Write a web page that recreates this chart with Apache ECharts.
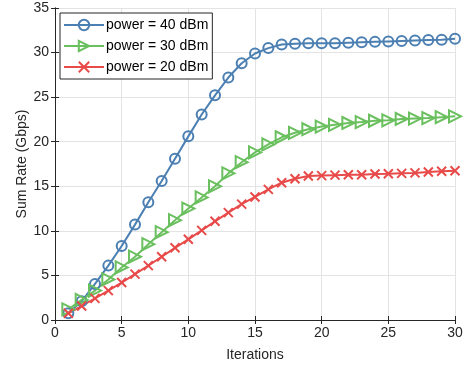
<!DOCTYPE html>
<html>
<head>
<meta charset="utf-8">
<script src="https://cdn.jsdelivr.net/npm/echarts@6/dist/echarts.min.js"></script>
<style>
html, body { margin: 0; padding: 0; background: #fff; }
#chart { width: 468px; height: 373px; }
</style>
</head>
<body>
<div id="chart"></div>
<script>
var iterations = [1, 2, 3, 4, 5, 6, 7, 8, 9, 10, 11, 12, 13, 14, 15, 16, 17, 18, 19, 20, 21, 22, 23, 24, 25, 26, 27, 28, 29, 30]
var power40 = [0.75, 2.1, 4.05, 6.1, 8.3, 10.7, 13.2, 15.6, 18.1, 20.6, 23.05, 25.2, 27.2, 28.8, 29.9, 30.5, 30.9, 31.0, 31.05, 31.05, 31.05, 31.1, 31.15, 31.2, 31.25, 31.3, 31.35, 31.4, 31.45, 31.55]
var power30 = [1.2, 2.25, 3.3, 4.55, 5.9, 7.1, 8.5, 9.85, 11.2, 12.5, 13.75, 15.0, 16.45, 17.7, 18.8, 19.7, 20.5, 21.0, 21.4, 21.7, 21.9, 22.1, 22.2, 22.35, 22.4, 22.55, 22.6, 22.65, 22.75, 22.85]
var power20 = [0.75, 1.57, 2.43, 3.3, 4.2, 5.15, 6.1, 7.1, 8.1, 9.05, 10.05, 11.07, 12.05, 13.0, 13.8, 14.65, 15.4, 15.85, 16.15, 16.2, 16.25, 16.3, 16.3, 16.38, 16.4, 16.45, 16.5, 16.6, 16.68, 16.75]
var seriesNames = ['power = 40 dBm', 'power = 30 dBm', 'power = 20 dBm']

var colors = ['#4C7FB2', '#6ABF5E', '#E84A4A']
var font = 'Liberation Sans, Arial, Helvetica, sans-serif'

function pairs(vals) {
	return vals.map(function (v, i) { return [iterations[i], v] })
}

function makeSeries(name, vals, color, symbol, size) {
	return {
		name: name,
		type: 'line',
		data: pairs(vals),
		symbol: symbol,
		symbolSize: size,
		showAllSymbol: true,
		lineStyle: { color: color, width: 2 },
		itemStyle: { color: 'transparent', borderColor: color, borderWidth: 2 },
		emphasis: { disabled: true },
		z: 3
	}
}

var chart = echarts.init(document.getElementById('chart'))
var axisLine = { show: true, lineStyle: { color: '#262626', width: 1 } }
var option = {
	animation: false,
	textStyle: { fontFamily: font },
	grid: { left: 55, right: 13, top: 8, bottom: 53, containLabel: false },
	legend: {
		left: 60,
		top: 13,
		orient: 'vertical',
		data: seriesNames,
		backgroundColor: '#fff',
		borderColor: '#262626',
		borderWidth: 1,
		borderRadius: 0,
		padding: [5, 4, 5, 3],
		itemWidth: 40,
		itemHeight: 13,
		itemGap: 7,
		textStyle: { fontSize: 14, color: '#000', fontFamily: font, padding: [0, 0, 0, -3] },
		selectedMode: false
	},
	xAxis: [{
		type: 'value',
		min: 0,
		max: 30,
		interval: 5,
		name: 'Iterations',
		nameLocation: 'middle',
		nameGap: 28,
		nameTextStyle: { fontSize: 14, color: '#262626' },
		axisLine: axisLine,
		axisTick: { show: true, inside: true, length: 4, lineStyle: { color: '#262626' } },
		axisLabel: { fontSize: 14, color: '#262626', margin: 6 },
		splitLine: { show: true, lineStyle: { color: '#e3e3e3', width: 1 } }
	}, {
		type: 'value',
		position: 'top',
		min: 0,
		max: 30,
		interval: 5,
		axisLine: axisLine,
		axisTick: { show: true, inside: true, length: 4, lineStyle: { color: '#262626' } },
		axisLabel: { show: false },
		splitLine: { show: false }
	}],
	yAxis: [{
		type: 'value',
		min: 0,
		max: 35,
		interval: 5,
		name: 'Sum Rate (Gbps)',
		nameLocation: 'middle',
		nameGap: 26,
		nameMoveOverlap: false,
		nameTextStyle: { fontSize: 14, color: '#262626' },
		axisLine: axisLine,
		axisTick: { show: true, inside: true, length: 4, lineStyle: { color: '#262626' } },
		axisLabel: { fontSize: 14, color: '#262626', margin: 6 },
		splitLine: { show: true, lineStyle: { color: '#e3e3e3', width: 1 } }
	}, {
		type: 'value',
		position: 'right',
		min: 0,
		max: 35,
		interval: 5,
		axisLine: axisLine,
		axisTick: { show: true, inside: true, length: 4, lineStyle: { color: '#262626' } },
		axisLabel: { show: false },
		splitLine: { show: false }
	}],
	series: [
		makeSeries(seriesNames[0], power40, colors[0], 'circle', 10),
		makeSeries(seriesNames[1], power30, colors[1], 'path://M0,0 L10,5 L0,10 Z', 12),
		makeSeries(seriesNames[2], power20, colors[2], 'path://M0,0 L10,10 M10,0 L0,10', 9)
	]
}
chart.setOption(option)
</script>
</body>
</html>
